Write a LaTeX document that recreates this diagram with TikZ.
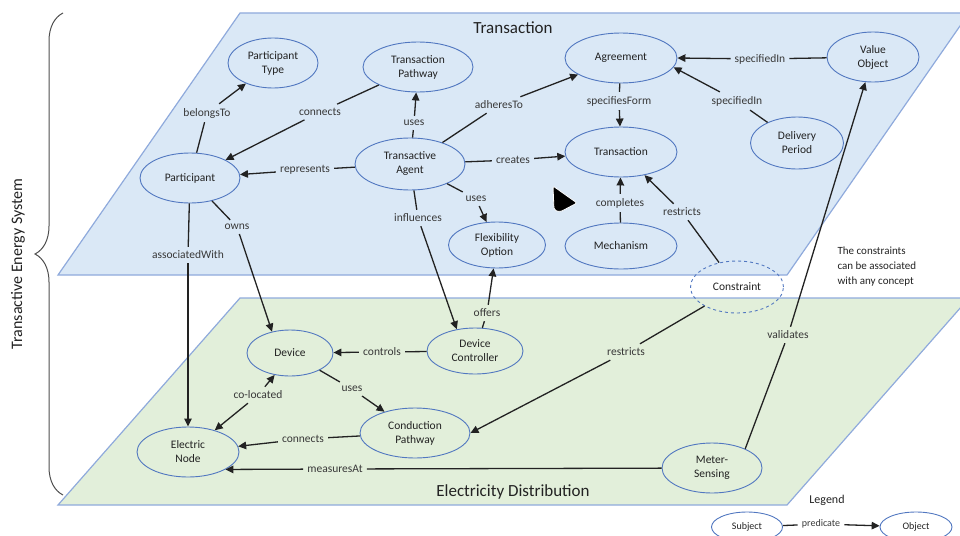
\documentclass[tikz,border=0pt]{standalone}
\usepackage{fontspec}
\setmainfont{Carlito}
\usetikzlibrary{shapes.geometric,arrows.meta,decorations.pathreplacing}
\definecolor{planeblue}{HTML}{DAE8F6}
\definecolor{planegreen}{HTML}{E2EFDA}
\definecolor{planeedge}{HTML}{8FAADC}
\definecolor{ringblue}{HTML}{5177C0}
\definecolor{inkgray}{HTML}{222222}

\begin{document}
\begin{tikzpicture}[x=1pt,y=-1pt,
    concept/.style={ellipse,draw=ringblue,line width=0.9pt,minimum width=100pt,minimum height=50pt,
      inner sep=0pt,align=center,text=inkgray,font=\fontsize{11.5}{14}\selectfont},
    pred/.style={inner sep=4pt,text=inkgray!90,font=\fontsize{11.5}{14}\selectfont},
    rel/.style={draw=inkgray,line width=1.3pt},
    relarrow/.style={rel,-{Triangle[length=8pt,width=7.5pt]}}]
    \useasboundingbox (0,0) rectangle (960,535);
    \fill[planeblue,draw=planeedge,line width=1.2pt] (240,13) -- (969,13) -- (787,275) -- (58,275) -- cycle;
    \fill[planegreen,draw=planeedge,line width=1.2pt] (240,298) -- (969,298) -- (787,505) -- (58,505) -- cycle;
    \node[text=inkgray,font=\fontsize{17}{20}\selectfont] (ttitle) at (513,28) {Transaction};
    \node[text=inkgray,font=\fontsize{17}{20}\selectfont] (dtitle) at (513,492) {Electricity Distribution};
    \node[rotate=90,text=inkgray,font=\fontsize{16}{19}\selectfont] (tes) at (18,264) {Transactive Energy System};
    \draw[decorate,decoration={brace,amplitude=28pt},line width=1pt,draw=inkgray!80] (63,495) -- (63,13);
    \fill[black,draw=white,line width=0.8pt,rounded corners=2pt] (553,186) -- (577,203) -- (560,212) -- (554,210) -- cycle;

    \node[concept,minimum width=90pt] (ptype) at (273,63) {Participant\\Type};
    \node[concept] (part) at (190,178) {Participant};
    \node[concept,minimum width=110pt] (tpath) at (418,67) {Transaction\\Pathway};
    \node[concept,minimum width=110pt,minimum height=52pt] (tagent) at (410,164) {Transactive\\Agent};
    \node[concept,minimum width=112pt] (agree) at (621,58) {Agreement};
    \node[concept,minimum width=112pt] (trans) at (621,152) {Transaction};
    \node[concept,minimum width=97pt,minimum height=46pt] (flex) at (497,245) {Flexibility\\Option};
    \node[concept,minimum width=112pt,minimum height=46pt] (mech) at (621,246) {Mechanism};
    \node[concept,minimum width=92pt] (vobj) at (873,57) {Value\\Object};
    \node[concept,minimum width=93pt,minimum height=52pt] (dper) at (797,143) {Delivery\\Period};
    \node[concept,dashed,minimum width=93pt,minimum height=52pt] (constr) at (737,287) {Constraint};
    \node[concept,minimum width=86pt,minimum height=46pt] (device) at (290,353) {Device};
    \node[concept,minimum width=96pt,minimum height=46pt] (devctrl) at (475,351) {Device\\Controller};
    \node[concept,minimum width=110pt] (cpath) at (415,433) {Conduction\\Pathway};
    \node[concept,minimum width=102pt] (enode) at (188,452) {Electric\\Node};
    \node[concept] (msense) at (712,468) {Meter-\\Sensing};

    \node[anchor=west,align=left,text=inkgray,font=\fontsize{11}{15}\selectfont] (note) at (834,267) {The constraints\\can be associated\\with any concept};
    \node[text=inkgray,font=\fontsize{12}{14}\selectfont] (legend) at (827,500) {Legend};
    \node[concept,minimum width=71pt,minimum height=30pt,font=\fontsize{10}{12}\selectfont] (subj) at (747,527) {Subject};
    \node[concept,minimum width=72pt,minimum height=30pt,font=\fontsize{10}{12}\selectfont] (obj) at (916,527) {Object};

    \node[pred] (lbelongs) at (207,113) {belongsTo};
    \node[pred] (lconn1) at (320,112) {connects};
    \node[pred] (lrep) at (305,170) {represents};
    \node[pred] (luses1) at (414,123) {uses};
    \node[pred] (ladh) at (499,105) {adheresTo};
    \node[pred] (lcreates) at (513,160) {creates};
    \node[pred] (luses2) at (476,199) {uses};
    \node[pred] (linfl) at (418,218) {influences};
    \node[pred] (lspecF) at (619,101) {specifiesForm};
    \node[pred] (lspec1) at (760,59) {specifiedIn};
    \node[pred] (lspec2) at (737,101) {specifiedIn};
    \node[pred] (lcompl) at (620,203) {completes};
    \node[pred] (lrestr1) at (682,212) {restricts};
    \node[pred] (lowns) at (237,227) {owns};
    \node[pred] (lassoc) at (188,255) {associatedWith};
    \node[pred] (loffers) at (487,313) {offers};
    \node[pred] (lctrl) at (382,352) {controls};
    \node[pred] (luses3) at (352,389) {uses};
    \node[pred] (lcoloc) at (258,395) {co-located};
    \node[pred] (lconn2) at (303,439) {connects};
    \node[pred] (lmeas) at (335,469) {measuresAt};
    \node[pred] (lvalid) at (788,335) {validates};
    \node[pred] (lrestr2) at (626,352) {restricts};
    \node[pred,font=\fontsize{10}{12}\selectfont] (lpred) at (821,524) {predicate};

    \foreach \s/\l/\t in {part/lbelongs/ptype, tpath/lconn1/part, tagent/lrep/part, tagent/luses1/tpath,
        tagent/ladh/agree, tagent/lcreates/trans, tagent/luses2/flex, tagent/linfl/devctrl.130,
        agree/lspecF/trans, vobj/lspec1/agree.east, dper/lspec2/agree.-10, mech/lcompl/trans,
        constr/lrestr1/trans, part/lowns/device.130, part/lassoc/enode, devctrl/loffers/flex,
        devctrl/lctrl/device, device/luses3/cpath, cpath/lconn2/enode, msense/lmeas/enode.-25,
        msense.30/lvalid/vobj, constr/lrestr2/cpath.east, subj/lpred/obj}
      {\draw[rel] (\s) -- (\l); \draw[relarrow] (\l) -- (\t);}
    \draw[relarrow] (lcoloc) -- (device.235);
    \draw[relarrow] (lcoloc) -- (enode);
\end{tikzpicture}
\end{document}
